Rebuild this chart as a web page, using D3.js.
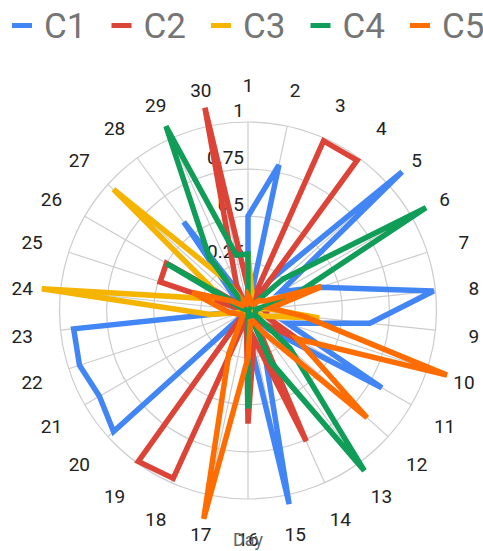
<!DOCTYPE html>
<html>
<head>
<meta charset="utf-8">
<script src="https://cdn.jsdelivr.net/npm/d3@7"></script>
<style>
  body { margin: 0; background: #fff; }
  text { font-family: Roboto, "Noto Sans", sans-serif; }
</style>
</head>
<body>
<svg id="chart" width="483" height="551"></svg>
<script>
// data
var days = d3.range(1, 31).map(String);
var seriesNames = ["C1", "C2", "C3", "C4", "C5"];
var colors = ["#4285F4", "#DB4437", "#F4B400", "#0F9D58", "#FF6D00"];
var radialTicks = [0.25, 0.5, 0.75, 1];

var c1 = [0.5, 0.79, 0, 0.2, 1.1, 0.2, 0.4, 0.99, 0.65, 0.22,
          0.82, 0.15, 0, 0.2, 1.05, 0.12, 0, 0, 0, 0.96,
          0.91, 0.94, 0.93, 0, 0.04, 0.04, 0.08, 0.58, 0.08, 0];
var c2 = [0.12, 0, 0.985, 0.985, 0, 0.04, 0.04, 0.08, 0.1, 0.1,
          0.3, 0.1, 0.06, 0.76, 0.15, 0.6, 0.04, 0.975, 0.99, 0.04,
          0, 0, 0, 0.03, 0.49, 0.5, 0.03, 0, 0.15, 1.1];
var c3 = [0.3, 0.1, 0, 0, 0.03, 0.03, 0.03, 0.1, 0.38, 0.1,
          0.03, 0, 0, 0, 0.03, 0, 0, 0, 0, 0,
          0, 0.03, 0.2, 1.1, 0.2, 0.2, 0.96, 0.2, 0.03, 0];
var c4 = [0.3, 0, 0, 0.03, 0.25, 1.09, 0.25, 0.04, 0.04, 0.04,
          0.04, 0.3, 1.05, 0.3, 0, 0.52, 0, 0, 0, 0,
          0, 0, 0, 0, 0.03, 0.5, 0, 0.35, 1.07, 0.3];
var c5 = [0.08, 0.06, 0.04, 0.04, 0.08, 0.1, 0.41, 0.12, 0.3, 1.11,
          0.3, 0.85, 0.15, 0.06, 0.06, 0.25, 1.13, 0.25, 0.06, 0.04,
          0.04, 0.06, 0.1, 0.15, 0.31, 0.1, 0.04, 0.04, 0.06, 0.04];

var allSeries = [c1, c2, c3, c4, c5];

var width = 483, height = 551;
var cx = 248, cy = 310.5, R = 188.5;

var svg = d3.select("#chart");

var angle = d3.scaleBand()
    .domain(days)
    .range([0, 2 * Math.PI])
    .paddingInner(0).paddingOuter(0);
var radius = d3.scaleLinear()
    .domain([0, 1])
    .range([0, R]);

var g = svg.append("g")
    .attr("transform", "translate(" + cx + "," + cy + ")");

// grid rings
g.append("g").selectAll("circle")
    .data(radialTicks)
    .enter()
    .append("circle")
        .attr("r", function(d) { return radius(d); })
        .attr("fill", "none")
        .attr("stroke", "#cccccc")
        .attr("stroke-width", 1.2);

// spokes
g.append("g").selectAll("line")
    .data(days)
    .enter()
    .append("line")
        .attr("x1", 0).attr("y1", 0)
        .attr("x2", function(d) { return radius(1) * Math.sin(angle(d)); })
        .attr("y2", function(d) { return -radius(1) * Math.cos(angle(d)); })
        .attr("stroke", "#cccccc")
        .attr("stroke-width", 1.2);

// radial axis labels
g.append("g").selectAll("text")
    .data(radialTicks)
    .enter()
    .append("text")
        .attr("x", -4)
        .attr("y", function(d) { return -radius(d) - 5; })
        .attr("text-anchor", "end")
        .attr("font-size", 19)
        .attr("fill", "#222")
        .text(function(d) { return d3.format("")(d); });

// category labels (slightly lower centre than the grid)
var labelR = 227;
svg.append("g")
    .attr("transform", "translate(" + cx + "," + (cy + 2) + ")")
    .selectAll("text")
    .data(days)
    .enter()
    .append("text")
        .attr("x", function(d) { return labelR * Math.sin(angle(d)); })
        .attr("y", function(d) { return -labelR * Math.cos(angle(d)); })
        .attr("text-anchor", "middle")
        .attr("dominant-baseline", "central")
        .attr("font-size", 19)
        .attr("fill", "#222")
        .text(function(d) { return d; });

// axis title
svg.append("text")
    .attr("x", cx)
    .attr("y", 546)
    .attr("text-anchor", "middle")
    .attr("font-size", 18)
    .attr("fill", "#666")
    .text("Day");

// series
var line = d3.lineRadial()
    .angle(function(d, i) { return angle(days[i]); })
    .radius(function(d) { return radius(d); })
    .curve(d3.curveLinearClosed);

g.append("g").selectAll("path")
    .data(allSeries)
    .enter()
    .append("path")
        .attr("d", line)
        .attr("fill", "none")
        .attr("stroke", function(d, i) { return colors[i]; })
        .attr("stroke-width", 5.5)
        .attr("stroke-linejoin", "miter");

// legend
var legend = svg.append("g").selectAll("g")
    .data(seriesNames)
    .enter()
    .append("g")
        .attr("transform", function(d, i) { return "translate(" + (12 + i * 99.5) + ",0)"; });
legend.append("rect")
    .attr("x", 0).attr("y", 23)
    .attr("width", 20).attr("height", 5)
    .attr("fill", function(d, i) { return colors[i]; });
legend.append("text")
    .attr("x", 32)
    .attr("y", 38)
    .attr("font-size", 35)
    .attr("fill", "#757575")
    .text(function(d) { return d; });
</script>
</body>
</html>
